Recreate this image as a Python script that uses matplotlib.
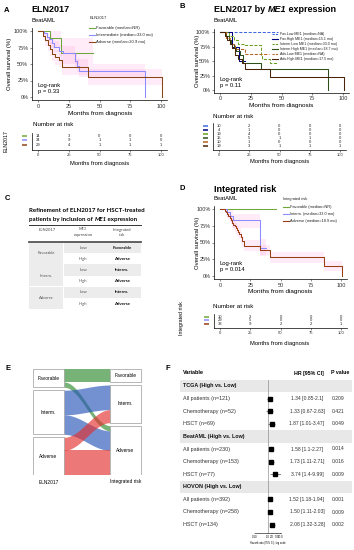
import numpy as np
import matplotlib
matplotlib.use("Agg")
import matplotlib.pyplot as plt
from matplotlib.patches import Rectangle

plt.rcParams['font.family'] = ['Liberation Sans', 'DejaVu Sans']

W, H = 354, 550

# ---------------- data ----------------
months_ticks = [0, 25, 50, 75, 100]
surv_ticks = [0, 25, 50, 75, 100]

# A: ELN2017 (BeatAML)
a_labels = ['Favorable (median=NR)', 'Intermediate (median=33.0 mo)', 'Adverse (median=20.9 mo)']
a_colors = ['#6fa83a', '#8c8cff', '#8b4513']
a_fav_t = [0, 10, 18.5, 45]
a_fav_s = [100, 90, 67, 67]
a_fav_lo = [100, 75, 50, 50]
a_fav_hi = [100, 100, 90, 90]
a_int_t = [0, 5, 7, 9, 11, 13, 17, 20, 30, 31.5, 33, 87]
a_int_s = [100, 97, 91, 88, 82, 76, 70, 67, 55, 47, 40, 0]
a_int_lo = [100, 93, 85, 81, 75, 68, 62, 58, 46, 38, 30, 0]
a_int_hi = [100, 100, 97, 95, 90, 85, 79, 77, 65, 57, 50, 0]
a_adv_t = [0, 4, 6, 8, 10, 11.5, 14, 17, 19.5, 40.5, 100.5]
a_adv_s = [100, 93, 86, 79, 72, 65, 60, 56, 45, 30, 0]
a_adv_lo = [100, 86, 78, 70, 62, 55, 49, 45, 34, 18, 0]
a_adv_hi = [100, 100, 95, 89, 83, 76, 71, 67, 57, 43, 0]
a_risk = [[14, 3, 0, 0, 0], [34, 9, 1, 1, 0], [29, 4, 1, 1, 1]]

# B: ELN2017 by ME1 expression
b_labels = ['Fav.Low ME1 (median=NA)', 'Fav.High ME1 (median=15.1 mo)',
            'Interm.Low ME1 (median=33.0 mo)', 'Interm.High ME1 (median=18.7 mo)',
            'Adv.Low ME1 (median=NA)', 'Adv.High ME1 (median=17.5 mo)']
b_colors = ['#4169e1', '#000080', '#6aa121', '#2f4f1a', '#b5651d', '#4a2408']
b_styles = ['--', '-', '--', '-', '--', '-']
b_t = [[0, 47],
       [0, 10, 15.1, 20],
       [0, 7, 11, 15, 20, 33, 34, 41, 47],
       [0, 5, 7, 9, 11, 13, 16, 18.7, 21, 33, 87.5],
       [0, 5, 8, 12, 20, 40],
       [0, 4, 6, 8, 10, 12, 15, 18, 20, 41, 101]]
b_s = [[100, 100],
       [100, 75, 50, 50],
       [100, 93, 87, 80, 78, 60, 53, 47, 47],
       [100, 93, 87, 80, 73, 67, 60, 47, 47, 37, 0],
       [100, 90, 80, 70, 62, 62],
       [100, 93, 87, 80, 73, 60, 53, 47, 37, 23, 0]]
b_risk = [[10, 2, 0, 0, 0], [4, 1, 0, 0, 0], [19, 4, 0, 0, 0],
          [15, 5, 1, 1, 0], [10, 1, 0, 0, 0], [19, 3, 1, 1, 1]]

# D: integrated risk
d_labels = ['Favorable (median=NR)', 'Interm. (median=33.0 mo)', 'Adverse (median=18.9 mo)']
d_colors = ['#6fa83a', '#8c8cff', '#9a3d12']
d_fav_t = [0, 46]
d_fav_s = [100, 100]
d_int_t = [0, 6, 8, 11, 33, 38]
d_int_s = [100, 95, 90, 83, 42, 42]
d_int_lo = [100, 88, 80, 72, 30, 30]
d_int_hi = [100, 100, 98, 93, 55, 55]
d_adv_t = [0, 4, 5, 6, 7, 8, 9, 10, 11, 12, 13, 14, 15, 16, 17, 18, 20, 33, 41, 86, 101]
d_adv_s = [100, 97, 95, 92, 89, 87, 84, 79, 76, 74, 71, 68, 66, 63, 58, 52, 45, 39, 28, 15, 0]
d_adv_lo = [100, 93, 90, 87, 83, 80, 77, 72, 69, 66, 63, 60, 58, 55, 50, 44, 37, 31, 20, 8, 0]
d_adv_hi = [100, 100, 99, 97, 95, 93, 91, 86, 83, 81, 79, 76, 74, 71, 66, 60, 53, 47, 36, 22, 0]
d_risk = [[10, 3, 0, 0, 0], [29, 5, 0, 0, 0], [38, 9, 2, 2, 1]]

# C: refinement table
c_eln = ['Favorable', 'Interm.', 'Adverse']
c_me1 = ['Low', 'High', 'Low', 'High', 'Low', 'High']
c_risk = ['Favorable', 'Adverse', 'Interm.', 'Adverse', 'Interm.', 'Adverse']

# E: alluvial
e_strata = ['Favorable', 'Interm.', 'Adverse']
e_from = [0, 0, 1, 1, 2, 2]
e_to = [0, 2, 1, 2, 1, 2]
e_n = [10, 4, 19, 15, 10, 19]
e_colors = ['#2e8b2e', '#2855b8', '#e3302f']

# F: forest plot
f_labels = ['TCGA (High vs. Low)', 'All patients (n=121)', 'Chemotherapy (n=52)', 'HSCT (n=69)',
            'BeatAML (High vs. Low)', 'All patients (n=230)', 'Chemotherapy (n=153)', 'HSCT (n=77)',
            'HOVON (High vs. Low)', 'All patients (n=392)', 'Chemotherapy (n=258)', 'HSCT (n=134)']
f_hr = [np.nan, 1.34, 1.33, 1.87, np.nan, 1.58, 1.73, 3.74, np.nan, 1.52, 1.50, 2.08]
f_lo = [np.nan, 0.85, 0.67, 1.01, np.nan, 1.1, 1.11, 1.4, np.nan, 1.18, 1.11, 1.32]
f_hi = [np.nan, 2.1, 2.63, 3.47, np.nan, 2.27, 2.71, 9.99, np.nan, 1.94, 2.03, 3.28]
f_p = ['', '0.209', '0.421', '0.049', '', '0.014', '0.016', '0.009', '', '0.001', '0.009', '0.002']

# ---------------- helpers ----------------
fig = plt.figure(figsize=(W / 100, H / 100), dpi=100)
ov = fig.add_axes([0, 0, 1, 1])
ov.set_xlim(0, W)
ov.set_ylim(H, 0)
ov.axis('off')


def px_axes(left, top, right, bottom):
    ax = fig.add_axes([left / W, 1 - bottom / H, (right - left) / W, (bottom - top) / H])
    ax.patch.set_alpha(0)
    return ax


def txt(x, y, s, size=4, **kw):
    kw.setdefault('va', 'center')
    return ov.text(x, y, s, fontsize=size, **kw)


def rich(x, y, parts, size, **kw):
    r = fig.canvas.get_renderer()
    for s, extra in parts:
        t = ov.text(x, y, s, fontsize=size, va='center', ha='left', **kw, **extra)
        x += t.get_window_extent(r).width * W / fig.bbox.width


def km_panel(x0, x100, y100, y0):
    sx = (x100 - x0) / 100.0
    sy = (y0 - y100) / 100.0
    ax = px_axes(x0 - 5 * sx, y100 - 5 * sy, x100 + 5 * sx, y0 + 5 * sy)
    ax.set_xlim(-5, 105)
    ax.set_ylim(-5, 105)
    ax.set_xticks(months_ticks)
    ax.set_yticks(surv_ticks)
    ax.set_yticklabels([f'{v}%' for v in surv_ticks])
    for s in ['top', 'right']:
        ax.spines[s].set_visible(False)
    for s in ['left', 'bottom']:
        ax.spines[s].set_linewidth(0.5)
    ax.tick_params(labelsize=4, length=1.5, width=0.4, pad=1, colors='#333333')
    return ax


def km_curve(ax, t, s, color, ls='-', lo=None, hi=None):
    if lo is not None:
        ax.fill_between(t, lo, hi, step='post', color='#ff66cc', alpha=0.12, lw=0)
    ax.step(t, s, where='post', color=color, lw=0.75, ls=ls, dashes=(3, 1.5) if ls == '--' else (None, None))


def risk_panel(x0, x100, row0, step, counts, colors):
    n = len(counts)
    sx = (x100 - x0) / 100.0
    left, right = x0 - 5 * sx, x100 + 5 * sx
    ax = px_axes(left, row0 - 0.7 * step, right, row0 + (n - 1) * step + 1.1 * step)
    ax.set_xlim(-5, 105)
    ax.set_ylim(n - 1 + 1.1, -0.7)
    wpx = right - left
    for i, row in enumerate(counts):
        for t, c in zip(months_ticks, row):
            ax.text(t, i, str(c), ha='center', va='center', fontsize=3, color='#222222')
        ax.plot([-10 / wpx, -5 / wpx], [i, i], transform=ax.get_yaxis_transform(),
                clip_on=False, color=colors[i], lw=1.1, solid_capstyle='butt')
    ax.set_yticks([])
    ax.set_xticks(months_ticks)
    for s in ['top', 'right']:
        ax.spines[s].set_visible(False)
    for s in ['left', 'bottom']:
        ax.spines[s].set_linewidth(0.5)
    ax.tick_params(labelsize=3, length=1.2, width=0.4, pad=1, colors='#333333')
    return ax


def legend(x, y0, dy, labels, colors, styles, size=3):
    for i, (lab, col, ls) in enumerate(zip(labels, colors, styles)):
        y = y0 + i * dy
        ov.plot([x, x + 5.5], [y, y], color=col, lw=0.8, ls=ls, dashes=(2, 1) if ls == '--' else (None, None))
        txt(x + 7.5, y, lab, size=size, color='#222222')


# ---------------- panel A ----------------
txt(4, 10, 'A', 5.5, weight='bold')
txt(31, 10, 'ELN2017', 6.5, weight='bold')
txt(32, 20, 'BeatAML', 4.2)
ax = km_panel(38, 161, 31, 97)
km_curve(ax, a_fav_t, a_fav_s, a_colors[0], lo=a_fav_lo, hi=a_fav_hi)
km_curve(ax, a_int_t, a_int_s, a_colors[1], lo=a_int_lo, hi=a_int_hi)
km_curve(ax, a_adv_t, a_adv_s, a_colors[2], lo=a_adv_lo, hi=a_adv_hi)
txt(90, 18, 'ELN2017', 3, color='#222222')
legend(89, 28, 7, a_labels, a_colors, ['-'] * 3)
txt(10, 64, 'Overall survival (%)', 4.3, rotation=90, ha='center')
txt(100, 113, 'Months from diagnosis', 4.6, ha='center')
txt(38, 85, 'Log-rank', 4.2)
txt(38, 91, 'p = 0.33', 4.2)
txt(33, 125, 'Number at risk', 4.5)
risk_panel(38, 161, 136, 4.5, a_risk, a_colors)
txt(100, 163, 'Months from diagnosis', 4.2, ha='center')
txt(6, 141, 'ELN2017', 3.8, rotation=90, ha='center')

# ---------------- panel B ----------------
txt(180, 6, 'B', 5.5, weight='bold')
rich(214, 10, [('ELN2017 by ', {}), ('ME1', {'style': 'italic'}), (' expression', {})], 6.5, weight='bold')
txt(214, 21, 'BeatAML', 4.2)
ax = km_panel(220, 343, 32, 90)
for t, s, c, ls in zip(b_t, b_s, b_colors, b_styles):
    km_curve(ax, t, s, c, ls=ls)
legend(272, 34, 5, b_labels, b_colors, b_styles, size=2.6)
txt(197, 61, 'Overall survival (%)', 4.3, rotation=90, ha='center')
txt(281, 106, 'Months from diagnosis', 4.6, ha='center')
txt(220, 79, 'Log-rank', 4.2)
txt(220, 85, 'p = 0.11', 4.2)
txt(213, 117, 'Number at risk', 4.5)
risk_panel(219, 340, 126, 4, b_risk, b_colors)
txt(280, 162, 'Months from diagnosis', 4.2, ha='center')

# ---------------- panel C ----------------
txt(5, 199, 'C', 5.5, weight='bold')
cf = ['Lato', 'DejaVu Sans']
txt(29, 211, 'Refinement of ELN2017 for HSCT-treated', 4.4, weight='bold', family=cf)
rich(29, 219.5, [('patients by inclusion of ', {}), ('ME1', {'style': 'italic'}), (' expression', {})],
     4.4, weight='bold', family=cf)
ov.plot([29, 141], [225, 225], color='#333333', lw=0.7)
txt(47, 230, 'ELN2017', 3, ha='center', color='#444444', family=cf)
txt(83, 229.5, 'ME1', 3, ha='center', color='#444444', family=cf, style='italic')
txt(83, 235, 'expression', 3, ha='center', color='#444444', family=cf)
txt(122, 229.5, 'Integrated', 3, ha='center', color='#444444', family=cf)
txt(122, 235, 'risk', 3, ha='center', color='#444444', family=cf)
ov.plot([29, 141], [242, 242], color='#555555', lw=1.3)
row_h = 11.2
for i, (m, r) in enumerate(zip(c_me1, c_risk)):
    y = 242 + i * row_h
    if i % 2 == 0:
        ov.add_patch(Rectangle((64, y), 77, row_h, fc='#ececec', ec='none'))
    txt(83, y + row_h / 2, m, 3, ha='center', color='#555555', family=cf)
    txt(122, y + row_h / 2, r, 3.2, ha='center', weight='bold', color='#111111', family=cf)
for k, e in enumerate(c_eln):
    y = 242 + 2 * k * row_h
    ov.add_patch(Rectangle((29, y), 34, 2 * row_h - 0.5, fc='#ececec', ec='none'))
    txt(46.5, y + row_h, e, 3, ha='center', color='#555555', family=cf)

# ---------------- panel D ----------------
txt(180, 188, 'D', 5.5, weight='bold')
txt(214, 189, 'Integrated risk', 6.5, weight='bold')
txt(214, 199, 'BeatAML', 4.2)
ax = km_panel(220, 341, 209, 276)
km_curve(ax, d_fav_t, d_fav_s, d_colors[0])
km_curve(ax, d_int_t, d_int_s, d_colors[1], lo=d_int_lo, hi=d_int_hi)
km_curve(ax, d_adv_t, d_adv_s, d_colors[2], lo=d_adv_lo, hi=d_adv_hi)
txt(283, 199, 'Integrated risk', 2.8, color='#222222')
legend(283, 207, 7, d_labels, d_colors, ['-'] * 3, size=2.8)
txt(197, 243, 'Overall survival (%)', 4.3, rotation=90, ha='center')
txt(280, 291, 'Months from diagnosis', 4.6, ha='center')
txt(220, 264, 'Log-rank', 4.2)
txt(220, 269.5, 'p = 0.014', 4.2)
txt(213, 306, 'Number at risk', 4.5)
risk_panel(220, 341, 316.5, 3.8, d_risk, d_colors)
txt(280, 344, 'Months from diagnosis', 4.2, ha='center')
txt(181, 318, 'Integrated risk', 3.8, rotation=90, ha='center')

# ---------------- panel E ----------------
txt(5, 368, 'E', 5.5, weight='bold')
gap = 2.3
total = sum(e_n) + gap * (len(e_strata) - 1)
axe = px_axes(10, 369, 164, 475)
axe.set_xlim(0.5, 2.5)
axe.set_ylim(total, 0)
axe.axis('off')
w = 0.4
n_from = [sum(n for f, n in zip(e_from, e_n) if f == k) for k in range(3)]
n_to = [sum(n for t, n in zip(e_to, e_n) if t == k) for k in range(3)]
top_from = [sum(n_from[:k]) + k * gap for k in range(3)]
top_to = [sum(n_to[:k]) + k * gap for k in range(3)]
pos_l = list(top_from)
pos_r = list(top_to)
order_r = sorted(range(len(e_n)), key=lambda j: (e_to[j], e_from[j]))
start_r = {}
for j in order_r:
    start_r[j] = pos_r[e_to[j]]
    pos_r[e_to[j]] += e_n[j]
xs = np.linspace(1 + w / 2, 2 - w / 2, 60)
u = (xs - xs[0]) / (xs[-1] - xs[0])
sm = (1 - np.cos(np.pi * u)) / 2
for j in range(len(e_n)):
    y0 = pos_l[e_from[j]]
    pos_l[e_from[j]] += e_n[j]
    y1 = start_r[j]
    ytop = y0 + (y1 - y0) * sm
    axe.fill_between(xs, ytop, ytop + e_n[j], color=e_colors[e_from[j]], alpha=0.65, lw=0)
for k, name in enumerate(e_strata):
    for xc, top, n in [(1, top_from[k], n_from[k]), (2, top_to[k], n_to[k])]:
        axe.add_patch(Rectangle((xc - w / 2, top), w, n, fc='white', ec='#9a9a9a', lw=0.5, zorder=3))
        axe.text(xc, top + n / 2, name, ha='center', va='center', fontsize=3.5, zorder=4)
txt(48.5, 482, 'ELN2017', 3.5, ha='center')
txt(125.5, 482, 'Integrated risk', 3.5, ha='center')

# ---------------- panel F ----------------
txt(166, 368, 'F', 5.5, weight='bold')
row0, dy = 386, 12.6
txt(183, 373, 'Variable', 4, weight='bold')
txt(309, 373, 'HR [95% CI]', 3.8, weight='bold', ha='center')
txt(340, 373, 'P value', 3.8, weight='bold', ha='center')
for i, lab in enumerate(f_labels):
    y = row0 + i * dy
    group = np.isnan(f_hr[i])
    if group:
        ov.add_patch(Rectangle((180, y - dy / 2), 172, dy, fc='#e8e8e8', ec='none'))
        txt(183, y, lab, 3.9, weight='bold', color='#111111')
    else:
        txt(183, y, lab, 3.9, color='#333333')
        txt(307, y, f'{f_hr[i]:.2f} [{f_lo[i]:g}-{f_hi[i]:g}]', 3.6, ha='center', color='#333333')
        txt(338, y, f_p[i], 3.6, ha='center', color='#333333')
axf = px_axes(255, row0 - dy / 2, 281, row0 + 11.5 * dy + 2)
axf.set_xscale('log')
axf.set_xlim(0.1, 10)
axf.set_ylim(len(f_labels) - 0.5 + 2 / dy, -0.5)
yy = np.arange(len(f_labels))
hr = np.array(f_hr)
axf.errorbar(hr, yy, xerr=[hr - np.array(f_lo), np.array(f_hi) - hr], fmt='s', ms=2.2,
             color='black', ecolor='#555555', elinewidth=0.5, capsize=0)
axf.axvline(1, color='#777777', lw=0.4, zorder=0)
axf.set_xticks([0.1, 1, 2, 5, 10])
axf.set_xticklabels(['0.10', '1.0', '2.0', '5.0', '10.0'])
axf.minorticks_off()
axf.set_yticks([])
for s in ['top', 'right', 'left']:
    axf.spines[s].set_visible(False)
axf.spines['bottom'].set_linewidth(0.4)
axf.tick_params(labelsize=2, length=1, width=0.3, pad=0.5)
txt(268, 543, 'Hazard ratio (95% CI), log scale', 1.8, ha='center')

fig.savefig('out.png', dpi=100)
